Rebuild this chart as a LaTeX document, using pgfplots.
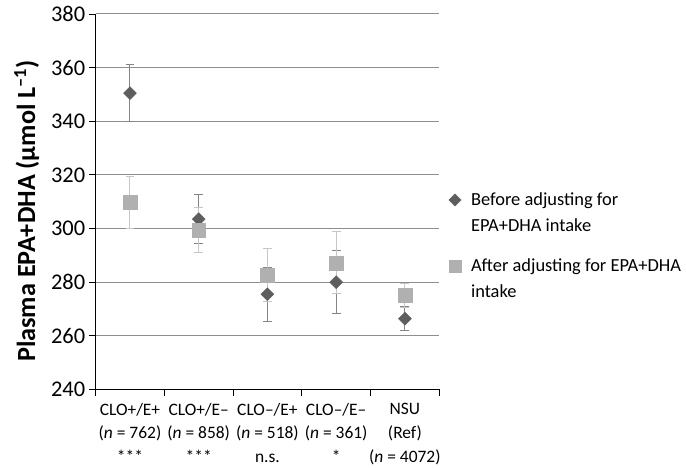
\documentclass[border=0pt]{standalone}
\usepackage{fontspec}
\setmainfont{Carlito}
\usepackage{pgfplots}
\pgfplotsset{compat=1.18}
\definecolor{before}{HTML}{5E5E5E}
\definecolor{after}{HTML}{B0B0B0}
\definecolor{beforebar}{HTML}{858585}
\definecolor{afterbar}{HTML}{C6C6C6}
\definecolor{gridc}{HTML}{8E8E8E}
\begin{document}
\begin{tikzpicture}
\begin{axis}[
  scale only axis,
  width=345pt, height=377pt,
  xmin=0.5, xmax=5.5,
  ymin=240, ymax=380,
  ytick={240,260,...,380},
  xtick={1,...,5},
  minor xtick={0.5,1.5,...,5.5},
  xticklabels={
    {CLO+/E+\\(\textit{n} = 762)\\***},
    {CLO+/E–\\(\textit{n} = 858)\\***},
    {CLO–/E+\\(\textit{n} = 518)\\n.s.},
    {CLO–/E–\\(\textit{n} = 361)\\*},
    {NSU\\(Ref)\\(\textit{n} = 4072)}},
  xticklabel style={align=center, font=\fontsize{17.5}{24}\selectfont, yshift=-3pt},
  yticklabel style={font=\fontsize{22.5}{26}\selectfont},
  /pgf/number format/assume math mode=true,
  major x tick style={draw=none},
  minor tick length=7pt,
  major tick length=7pt,
  tick align=outside,
  tick style={black, line width=0.8pt},
  axis x line*=bottom,
  axis y line*=left,
  axis line style={black, line width=0.9pt, -},
  ymajorgrids,
  grid style={gridc, line width=0.9pt},
  ylabel={\bfseries Plasma EPA+DHA (µmol L\textsuperscript{–1})},
  ylabel style={font=\fontsize{26.3}{28}\selectfont, at={(ticklabel cs:0.475)}, yshift=5pt},
  legend style={draw=none, at={(1.019,0.382)}, anchor=west,
    font=\fontsize{18.5}{26}\selectfont, cells={align=left},
    row sep=22pt,
    /tikz/every odd column/.append style={column sep=8pt}},
  legend cell align=left,
  clip=false,
]
\addplot[only marks, mark=square*, mark size=4.6pt,
  mark options={rotate=45, fill=before, draw=before},
  legend image post style={mark size=4.3pt, yshift=13pt},
  error bars/.cd, y dir=both, y explicit,
  error bar style={beforebar, line width=1pt},
  error mark options={rotate=90, mark size=4.5pt, beforebar, line width=1pt}]
  coordinates {
  (1,350.5) +- (0,10.6)
  (2,303.5) +- (0,9.0)
  (3,275.5) +- (0,10.0)
  (4,280.0) +- (0,11.7)
  (5,266.4) +- (0,4.5)
};
\addlegendentry{Before adjusting for\\EPA+DHA intake}
\addplot[only marks, mark=square*, mark size=7pt,
  mark options={fill=after, draw=after},
  legend image post style={mark size=6pt, yshift=13pt},
  error bars/.cd, y dir=both, y explicit,
  error bar style={afterbar, line width=1pt},
  error mark options={rotate=90, mark size=4.5pt, afterbar, line width=1pt}]
  coordinates {
  (1,309.7) +- (0,9.6)
  (2,299.4) +- (0,8.5)
  (3,282.7) +- (0,10.0)
  (4,287.2) +- (0,11.6)
  (5,275.0) +- (0,4.4)
};
\addlegendentry{After adjusting for EPA+DHA\\intake}
\end{axis}
\path (current axis.south west) ++(-96pt,-78pt) rectangle ++(686pt,469pt);
\end{tikzpicture}
\end{document}
